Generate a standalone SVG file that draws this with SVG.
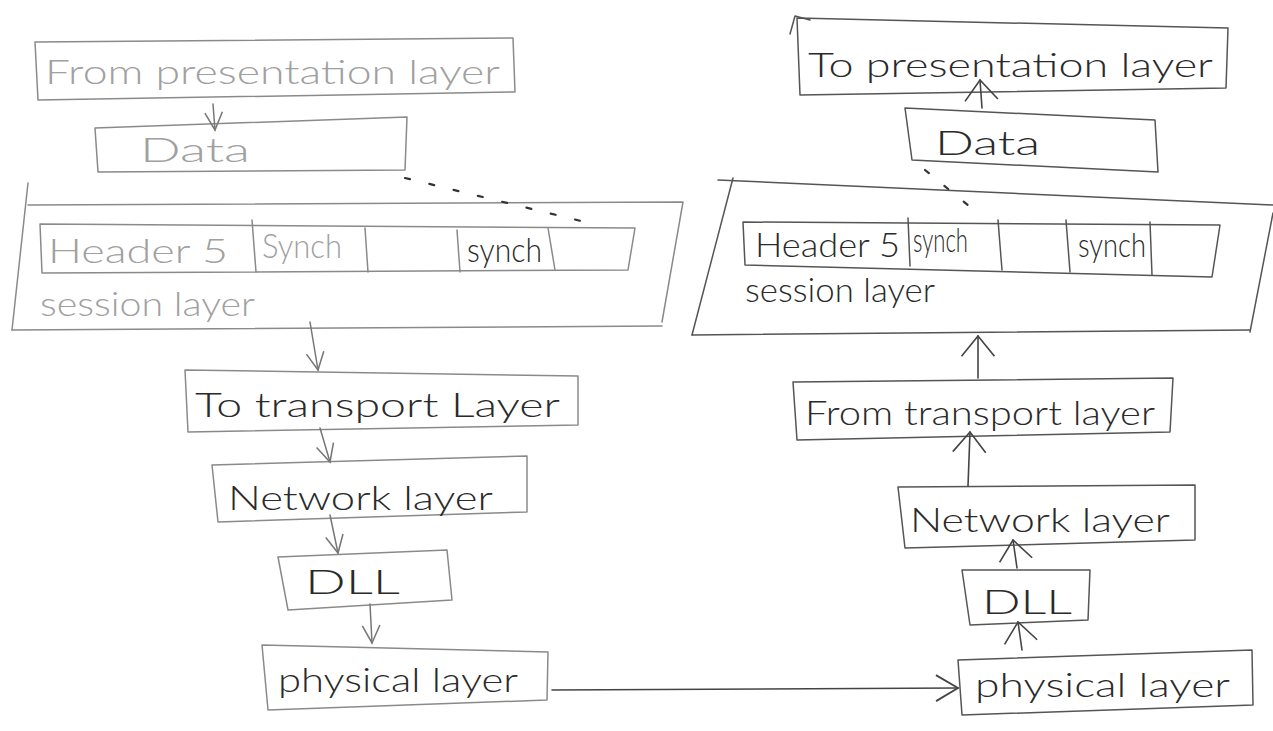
<svg xmlns="http://www.w3.org/2000/svg" width="1273" height="731" viewBox="0 0 1273 731">
<defs>
<style>
.bg{fill:#ffffff}
.lb{fill:none;stroke:#8a8a8a;stroke-width:1.5;stroke-linecap:round;stroke-linejoin:round}
.rb{fill:none;stroke:#555;stroke-width:1.5;stroke-linecap:round;stroke-linejoin:round}
.lt{font-family:"Lato","Liberation Sans",sans-serif;font-size:34px;fill:#a0a0a0;font-weight:300}
.rt{font-family:"Lato","Liberation Sans",sans-serif;font-size:34px;fill:#2a2a2a;font-weight:300}
.dash{fill:none;stroke:#333;stroke-width:2.2;stroke-dasharray:5 20;stroke-linecap:round}
.lc{fill:none;stroke:#777;stroke-width:1.5;stroke-linecap:round}
.rc{fill:none;stroke:#444;stroke-width:1.6;stroke-linecap:round}
</style>
<marker id="ahl" viewBox="0 0 20 20" refX="18" refY="10" markerWidth="22" markerHeight="22" markerUnits="userSpaceOnUse" orient="auto">
<path d="M2,2 L18,10 L2,18" fill="none" stroke="#777" stroke-width="1.4"/>
</marker>
<marker id="ahu" viewBox="0 0 20 30" refX="18" refY="15" markerWidth="26" markerHeight="38" markerUnits="userSpaceOnUse" orient="auto">
<path d="M2,2 L18,15 L2,28" fill="none" stroke="#444" stroke-width="1.3"/>
</marker>
<marker id="ahr" viewBox="0 0 30 30" refX="28" refY="15" markerWidth="30" markerHeight="30" markerUnits="userSpaceOnUse" orient="auto">
<path d="M6,2 L28,15 L6,28" fill="none" stroke="#444" stroke-width="1.8"/>
</marker>
</defs>
<rect class="bg" x="0" y="0" width="1273" height="731"/>

<!-- LEFT SIDE -->
<g id="l-from-presentation">
<path class="lb" d="M35,42 L513,38 L515,92 L38,100 Z"/>
<text class="lt" x="45" y="84" textLength="455" lengthAdjust="spacingAndGlyphs">From presentation layer</text>
</g>
<g id="l-data">
<path class="lb" d="M95,128 L407,117 L405,170 L98,172 Z"/>
<text class="lt" x="140" y="162" textLength="110" lengthAdjust="spacingAndGlyphs">Data</text>
</g>
<g id="l-session">
<path class="lb" d="M28,183 L12,330"/>
<path class="lb" d="M28,205 L683,202 L662,322"/>
<path class="lb" d="M12,330 L662,326"/>
<path class="lb" d="M40,224 L635,228 L628,270 L42,273 Z"/>
<path class="lb" d="M252,220 L256,272"/>
<path class="lb" d="M365,228 L368,272"/>
<path class="lb" d="M457,230 L460,272"/>
<path class="lb" d="M548,228 L555,270"/>
<text class="lt" x="48" y="263" textLength="180" lengthAdjust="spacingAndGlyphs">Header 5</text>
<text class="lt" x="262" y="258" textLength="80" lengthAdjust="spacingAndGlyphs">Synch</text>
<text class="rt" x="467" y="262" font-size="28" textLength="75" lengthAdjust="spacingAndGlyphs">synch</text>
<text class="lt" x="40" y="316" textLength="215" lengthAdjust="spacingAndGlyphs">session layer</text>
</g>
<g id="l-to-transport">
<path class="lb" d="M185,370 L578,376 L578,425 L188,432 Z"/>
<text class="rt" x="195" y="417" textLength="365" lengthAdjust="spacingAndGlyphs">To transport Layer</text>
</g>
<g id="l-network">
<path class="lb" d="M212,465 L527,456 L527,512 L218,522 Z"/>
<text class="rt" x="228" y="510" textLength="265" lengthAdjust="spacingAndGlyphs">Network layer</text>
</g>
<g id="l-dll">
<path class="lb" d="M278,557 L447,550 L452,600 L288,610 Z"/>
<text class="rt" x="305" y="594" textLength="95" lengthAdjust="spacingAndGlyphs">DLL</text>
</g>
<g id="l-physical">
<path class="lb" d="M262,645 L548,652 L547,700 L268,710 Z"/>
<text class="rt" x="278" y="692" textLength="240" lengthAdjust="spacingAndGlyphs">physical layer</text>
</g>

<!-- RIGHT SIDE -->
<g id="r-to-presentation">
<path class="rb" d="M797,18 L1228,28 L1226,88 L800,95 Z"/>
<path class="rb" d="M790,34 L795,16 L810,20"/>
<text class="rt" x="808" y="77" textLength="405" lengthAdjust="spacingAndGlyphs">To presentation layer</text>
</g>
<g id="r-data">
<path class="rb" d="M905,108 L1155,120 L1158,172 L912,160 Z"/>
<text class="rt" x="935" y="155" textLength="105" lengthAdjust="spacingAndGlyphs">Data</text>
</g>
<g id="r-session">
<path class="rb" d="M718,180 L1273,205"/>
<path class="rb" d="M733,178 L692,335"/>
<path class="rb" d="M692,335 L1250,330"/>
<path class="rb" d="M1273,213 L1250,332"/>
<path class="rb" d="M743,222 L1220,225 L1212,277 L745,265 Z"/>
<path class="rb" d="M908,218 L910,266"/>
<path class="rb" d="M998,220 L1002,270"/>
<path class="rb" d="M1066,220 L1070,272"/>
<path class="rb" d="M1150,222 L1152,275"/>
<text class="rt" x="755" y="257" textLength="145" lengthAdjust="spacingAndGlyphs">Header 5</text>
<text class="rt" x="913" y="252" font-size="22" fill="#666" textLength="55" lengthAdjust="spacingAndGlyphs">synch</text>
<text class="rt" x="1078" y="257" textLength="68" lengthAdjust="spacingAndGlyphs">synch</text>
<text class="rt" x="745" y="302" textLength="190" lengthAdjust="spacingAndGlyphs">session layer</text>
</g>
<g id="r-from-transport">
<path class="rb" d="M793,382 L1173,378 L1170,432 L797,440 Z"/>
<text class="rt" x="805" y="425" textLength="350" lengthAdjust="spacingAndGlyphs">From transport layer</text>
</g>
<g id="r-network">
<path class="rb" d="M898,487 L1195,485 L1195,540 L905,548 Z"/>
<text class="rt" x="910" y="532" textLength="260" lengthAdjust="spacingAndGlyphs">Network layer</text>
</g>
<g id="r-dll">
<path class="rb" d="M962,570 L1090,570 L1088,620 L970,625 Z"/>
<text class="rt" x="982" y="614" textLength="90" lengthAdjust="spacingAndGlyphs">DLL</text>
</g>
<g id="r-physical">
<path class="rb" d="M958,660 L1252,650 L1253,705 L962,715 Z"/>
<text class="rt" x="975" y="697" textLength="255" lengthAdjust="spacingAndGlyphs">physical layer</text>
</g>

<!-- CONNECTORS -->
<g id="connectors">
<path class="lc" d="M213,104 L215,130" marker-end="url(#ahl)"/>
<path class="dash" d="M405,178 L585,222"/>
<path class="lc" d="M310,322 L318,370" marker-end="url(#ahl)"/>
<path class="lc" d="M320,428 L330,462" marker-end="url(#ahl)"/>
<path class="lc" d="M330,515 L338,553" marker-end="url(#ahl)"/>
<path class="lc" d="M370,604 L372,643" marker-end="url(#ahl)"/>
<path class="rc" d="M552,690 L958,688" marker-end="url(#ahr)"/>
<path class="rc" d="M1022,650 L1018,622" marker-end="url(#ahu)"/>
<path class="rc" d="M1017,568 L1013,540" marker-end="url(#ahu)"/>
<path class="rc" d="M968,486 L970,432" marker-end="url(#ahu)"/>
<path class="rc" d="M978,378 L978,336" marker-end="url(#ahu)"/>
<path class="rc" d="M982,108 L980,80" marker-end="url(#ahu)"/>
<path class="dash" d="M925,170 L980,215"/>
</g>
</svg>
